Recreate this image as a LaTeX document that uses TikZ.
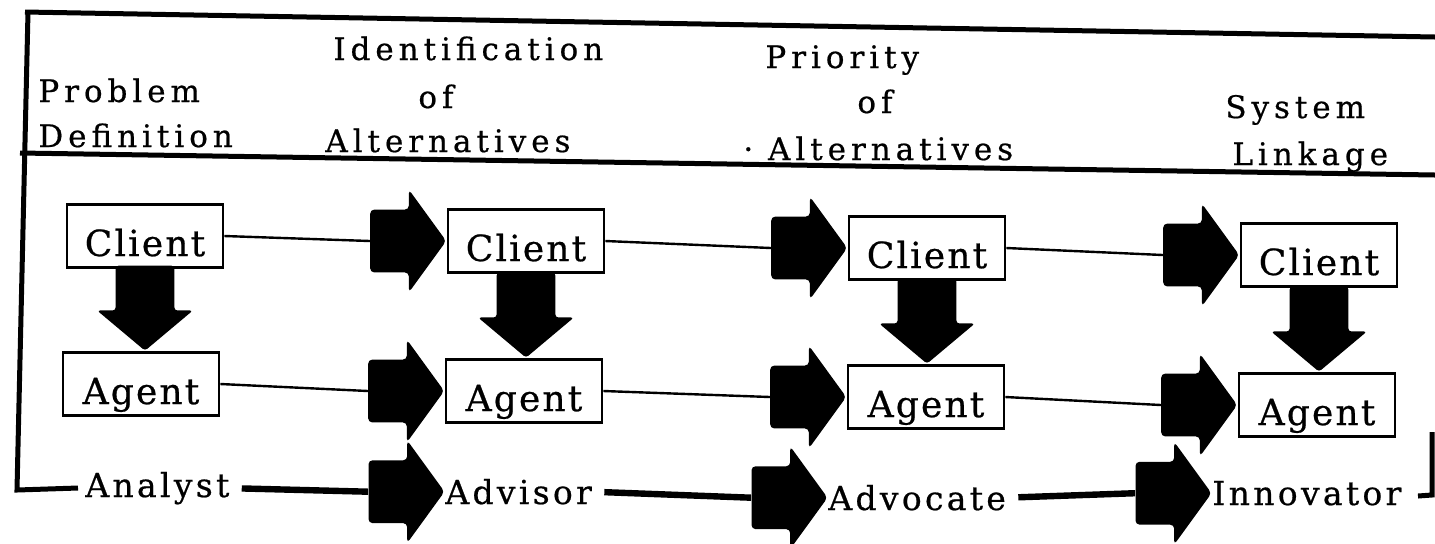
\documentclass[tikz,border=0pt]{standalone}
\usepackage{fontspec}
\setmainfont{DejaVu Serif}
\newfontfamily\headfont{DejaVu Serif}[LetterSpace=16,FakeBold=0.6]
\newfontfamily\boxfont{DejaVu Serif}[LetterSpace=6,FakeBold=0.6]
\newfontfamily\rolefont{DejaVu Serif}[LetterSpace=10,FakeBold=0.6]
\usetikzlibrary{shapes.arrows,calc}
\begin{document}
\begin{tikzpicture}[x=0.5pt,y=-0.5pt,
  heading/.style={anchor=base west, inner sep=0pt, font=\headfont\fontsize{15.5}{18}\selectfont},
  actor/.style={draw, line width=1.3pt, minimum width=78pt, minimum height=31.5pt, inner sep=0pt,
    text height=20pt, text depth=0pt, font=\boxfont\fontsize{18}{21}\selectfont},
  role/.style={inner sep=0pt, anchor=base west, font=\rolefont\fontsize{16.5}{19}\selectfont},
  fatright/.style={single arrow, fill=black, draw=none, inner xsep=0pt, inner ysep=15.5pt,
    text height=0pt, text depth=0pt, minimum width=0pt,
    single arrow head extend=10pt, single arrow tip angle=108, minimum height=38pt,
    rounded corners=2pt},
  fatdown/.style={single arrow, fill=black, draw=none, rotate=-90, inner xsep=0pt, inner ysep=14.5pt,
    text height=0pt, text depth=0pt, minimum width=0pt,
    single arrow head extend=9.25pt, single arrow tip angle=100, minimum height=42.5pt,
    rounded corners=1.5pt},
  link/.style={line width=1.2pt},
  rolelink/.style={line width=3.2pt, shorten <=6pt},
  frame/.style={line width=2.5pt}
]
\useasboundingbox (0,0) rectangle (1435,543);

% frame
\draw[frame] (25,12) -- (1435,37);
\draw[frame] (20,153) -- (1435,175);
\draw[frame] (28,12) -- (17,490) -- (78,488);
\draw[frame] (1432,432) -- (1432,495) -- (1418,496);

% headings
\node[heading] (h1a) at (38,102) {Problem};
\node[heading] (h1b) at (38,147) {Definition};
\node[heading] (h2a) at (333,60) {Identification};
\node[heading] (h2b) at (418,108) {of};
\node[heading] (h2c) at (325,152) {Alternatives};
\node[heading] (h3a) at (765,68) {Priority};
\node[heading] (h3b) at (857,113) {of};
\node[heading] (h3c) at (743,160) {· Alternatives};
\node[heading] (h4a) at (1225,118) {System};
\node[heading] (h4b) at (1232,165) {Linkage};

% boxes
\node[actor] (c1) at (145,236) {Client};
\node[actor] (a1) at (141,384) {Agent};
\node[actor] (c2) at (526,241) {Client};
\node[actor] (a2) at (524,391) {Agent};
\node[actor] (c3) at (927,248) {Client};
\node[actor] (a3) at (926,397) {Agent};
\node[actor] (c4) at (1319,255) {Client};
\node[actor] (a4) at (1317,405) {Agent};

% roles
\node[role] (r1) at (85,497) {Analyst};
\node[role] (r2) at (445,504) {Advisor};
\node[role] (r3) at (828,510) {Advocate};
\node[role] (r4) at (1212,505) {Innovator};

% down arrows
\node[fatdown, anchor=tip] (d1) at (a1.north -| c1.south) {};
\node[fatdown, anchor=tip] (d2) at (a2.north -| c2.south) {};
\node[fatdown, anchor=tip] (d3) at (a3.north -| c3.south) {};
\node[fatdown, anchor=tip] (d4) at (a4.north -| c4.south) {};

% right arrows
\node[fatright, anchor=tip] (pc2) at (c2.west) {};
\node[fatright, anchor=tip] (pa2) at (a2.west) {};
\node[fatright, anchor=tip] (pr2) at (r2.west) {};
\node[fatright, anchor=tip] (pc3) at (c3.west) {};
\node[fatright, anchor=tip] (pa3) at (a3.west) {};
\node[fatright, anchor=tip] (pr3) at (r3.west) {};
\node[fatright, anchor=tip] (pc4) at (c4.west) {};
\node[fatright, anchor=tip] (pa4) at (a4.west) {};
\node[fatright, anchor=tip] (pr4) at (r4.west) {};

% connectors
\draw[link] (c1.east) -- (pc2.tail);
\draw[link] (c2.east) -- (pc3.tail);
\draw[link] (c3.east) -- (pc4.tail);
\draw[link] (a1.east) -- (pa2.tail);
\draw[link] (a2.east) -- (pa3.tail);
\draw[link] (a3.east) -- (pa4.tail);
\draw[rolelink] (r1.east) -- (pr2.tail);
\draw[rolelink] (r2.east) -- (pr3.tail);
\draw[rolelink] (r3.east) -- (pr4.tail);
\end{tikzpicture}
\end{document}
